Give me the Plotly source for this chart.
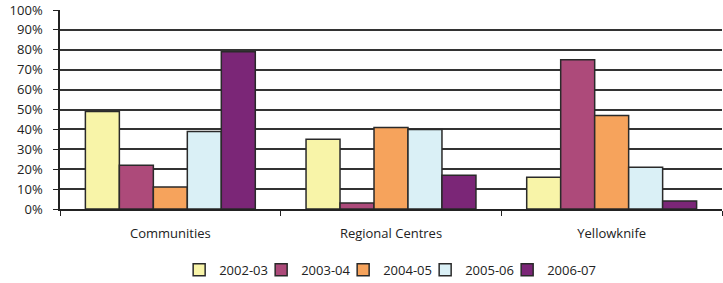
import plotly.graph_objects as go

categories = ["Communities", "Regional Centres", "Yellowknife"]
years = ["2002-03", "2003-04", "2004-05", "2005-06", "2006-07"]
v_2002_03 = [49, 35, 16]
v_2003_04 = [22, 3, 75]
v_2004_05 = [11, 41, 47]
v_2005_06 = [39, 40, 21]
v_2006_07 = [79, 17, 4]
series = [v_2002_03, v_2003_04, v_2004_05, v_2005_06, v_2006_07]
colors = ["#F8F4A8", "#AD4A7A", "#F6A35C", "#DAF0F6", "#7B2677"]
y_ticks = [0, 10, 20, 30, 40, 50, 60, 70, 80, 90, 100]
y_labels = [f"{t}%" for t in y_ticks]

fig = go.Figure()
for name, vals, col in zip(years, series, colors):
    fig.add_trace(go.Bar(
        x=categories, y=vals, name=name,
        marker=dict(color=col, line=dict(color="#2a2a2a", width=1.5)),
    ))
# blank trailing legend slot (draws nothing) so the last entry's text is not clipped
fig.add_trace(go.Scatter(x=[categories[0]], y=[None], mode="markers", name="\u00a0",
                         marker=dict(color="rgba(0,0,0,0)", symbol="square",
                                     line=dict(width=0)),
                         hoverinfo="skip", showlegend=True))

fig.update_layout(
    width=723, height=283,
    margin=dict(l=60, r=1, t=10, b=74, autoexpand=False),
    paper_bgcolor="white", plot_bgcolor="white",
    barmode="group", bargap=0.23, bargroupgap=0,
    font=dict(family="Open Sans", size=12, color="#222"),
    showlegend=True,
    legend=dict(orientation="h", x=0.18, xanchor="left", y=-0.306, yanchor="middle",
                font=dict(size=13), itemwidth=30, entrywidth=37, tracegroupgap=0,
                itemclick=False, itemdoubleclick=False),
)
fig.update_xaxes(
    showline=True, linecolor="#222", linewidth=1.5, automargin=False,
    ticks="outside", tickson="boundaries", ticklen=5, tickcolor="#222",
    tickfont=dict(size=13), showgrid=False, ticklabelstandoff=12,
)
fig.update_yaxes(
    range=[0, 100], tickvals=y_ticks, ticktext=y_labels, automargin=False,
    showline=True, linecolor="#222", linewidth=1.5,
    ticks="outside", ticklen=5, tickcolor="#222",
    showgrid=True, gridcolor="#333", gridwidth=1.5,
    tickfont=dict(size=13), zeroline=False, ticklabelstandoff=8,
)
fig.write_html("out.html", config={"displayModeBar": False},
               post_script="document.body.style.margin='0';")
